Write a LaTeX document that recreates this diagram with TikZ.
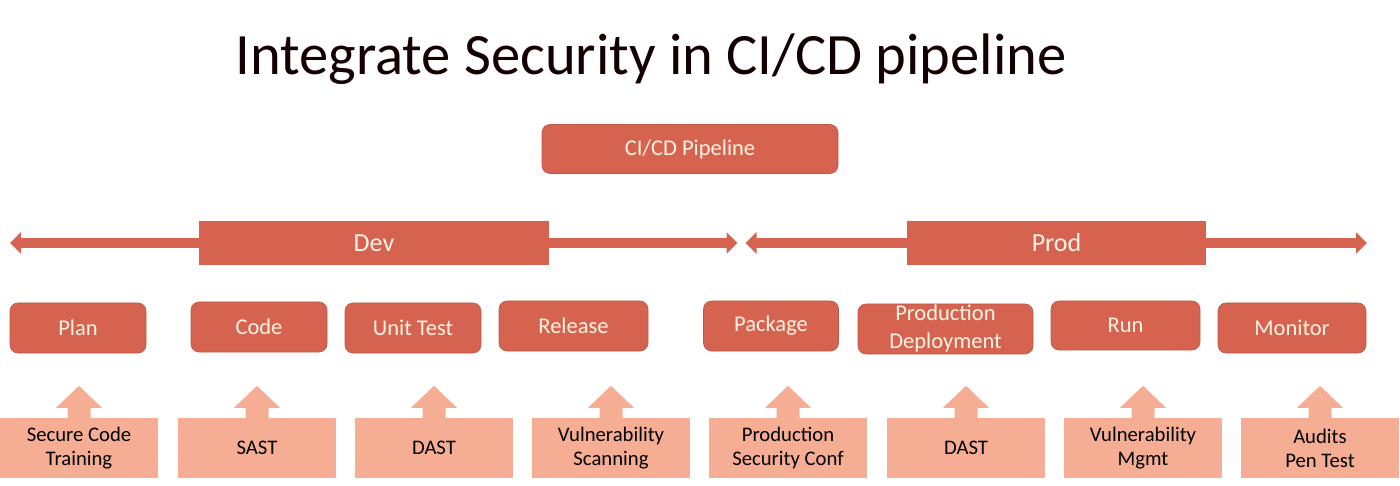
\documentclass[tikz,border=0pt]{standalone}
\usepackage{fontspec}
\setmainfont{Carlito}
\usetikzlibrary{arrows.meta}

\definecolor{stagered}{HTML}{D6634F}
\definecolor{secpink}{HTML}{F5AE94}
\definecolor{cream}{HTML}{FFF4E4}

\begin{document}
\begin{tikzpicture}[x=1pt,y=-1pt,
		stage/.style={fill=stagered,draw=stagered!88!black,line width=0.6pt,rounded corners=8pt,inner sep=0pt,text=cream,align=center,font=\fontsize{22.5}{28}\selectfont},
		phase/.style={fill=stagered,inner sep=0pt,text=cream,font=\fontsize{26}{30}\selectfont},
		sec/.style={fill=secpink,inner sep=0pt,minimum width=158pt,minimum height=60pt,align=center,font=\fontsize{20.7}{24}\selectfont},
		span/.style={draw=stagered,line width=10pt,{Triangle[width=21pt,length=11pt]}-{Triangle[width=21pt,length=11pt]}}]
		\useasboundingbox (0,0) rectangle (1400,486);
		
		% Title.
		\node[anchor=base,font=\fontsize{58.6}{66}\selectfont,text=black!92!red] (title) at (651,75) {Integrate Security in CI/CD pipeline};
		\node[stage,minimum width=296pt,minimum height=49pt,text depth=2pt] (pipe) at (690,149) {CI/CD Pipeline};
		
		% Dev and Prod spans.
		\coordinate (devl) at (10,243);
		\coordinate (devr) at (737.5,243);
		\coordinate (prodl) at (745.5,243);
		\coordinate (prodr) at (1367,243);
		\draw[span] (devl) -- (devr);
		\draw[span] (prodl) -- (prodr);
		\node[phase,minimum width=350pt,minimum height=44pt] (dev) at (374,243) {Dev};
		\node[phase,minimum width=299pt,minimum height=44pt] (prod) at (1056.5,243) {Prod};
		
		% Stages.
		\node[stage,minimum width=136pt,minimum height=50pt] (plan) at (78,328) {Plan};
		\node[stage,minimum width=136pt,minimum height=50pt] (code) at (259,327) {Code};
		\node[stage,minimum width=136pt,minimum height=50pt] (unit) at (413,328) {Unit Test};
		\node[stage,minimum width=149pt,minimum height=50pt] (release) at (573.5,326) {Release};
		\node[stage,minimum width=135pt,minimum height=50pt] (package) at (771,326) {Package};
		\node[stage,minimum width=175pt,minimum height=50pt] (deploy) at (945.5,329) {Production\\Deployment};
		\node[stage,minimum width=149pt,minimum height=49pt] (run) at (1125.5,325.5) {Run};
		\node[stage,minimum width=148pt,minimum height=50pt] (monitor) at (1292,328) {Monitor};
		
		% Security steps.
		\node[sec] (training) at (79,448) {Secure Code\\Training};
		\node[sec] (sast) at (257,448) {SAST};
		\node[sec] (dast) at (434,448) {DAST};
		\node[sec] (scan) at (611,448) {Vulnerability\\Scanning};
		\node[sec] (conf) at (788,448) {Production\\Security Conf};
		\node[sec] (dastprod) at (966,448) {DAST};
		\node[sec] (mgmt) at (1143,448) {Vulnerability\\Mgmt};
		\node[sec] (audit) at (1320,448) {Audits\\Pen Test};
		\foreach \s in {training,sast,dast,scan,conf,dastprod,mgmt,audit}
			\fill[secpink,shift={(\s.north)}] (-11.5,1) -- (-11.5,-10) -- (-23,-10) -- (0,-32) -- (23,-10) -- (11.5,-10) -- (11.5,1) -- cycle;
	\end{tikzpicture}
\end{document}
